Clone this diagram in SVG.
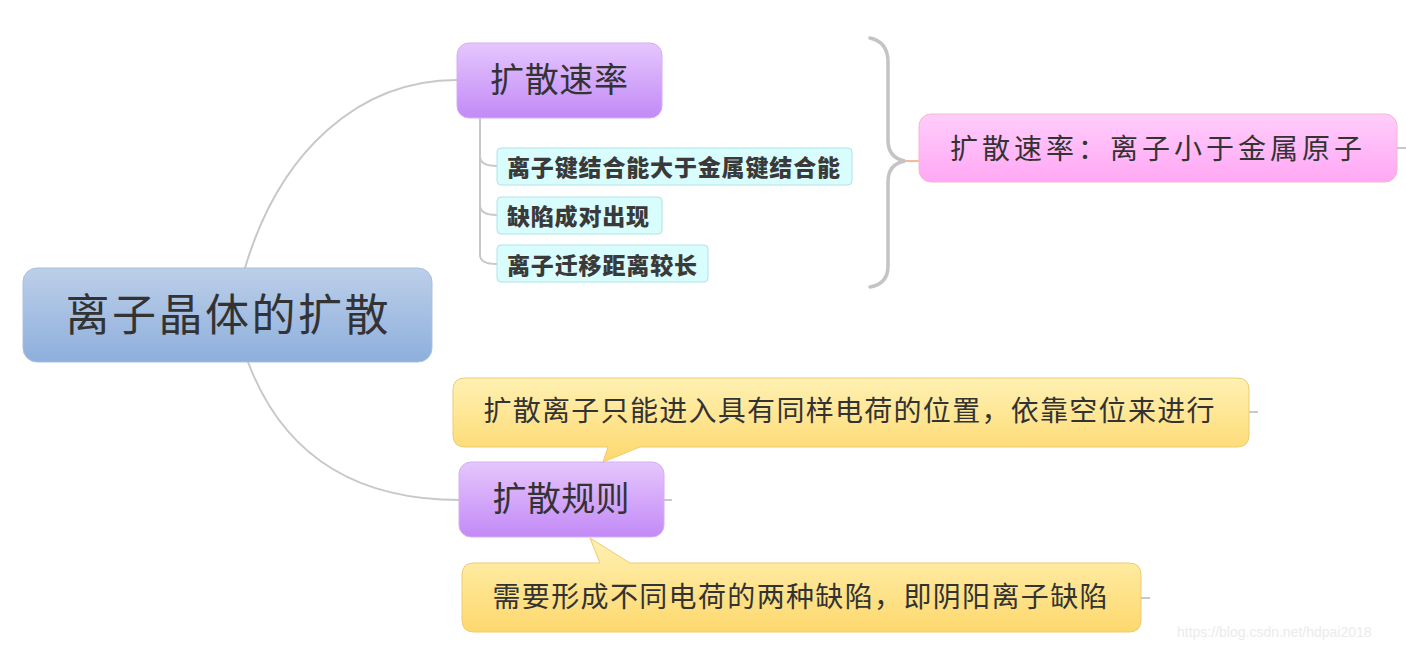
<svg xmlns="http://www.w3.org/2000/svg" width="1406" height="648" viewBox="0 0 1406 648">
<style>
.t{font-family:"Liberation Serif","Noto Sans CJK SC",serif;fill:#333;text-anchor:middle;dominant-baseline:central}
.b{font-family:"Noto Sans CJK SC",sans-serif;font-weight:900;fill:#3a3a3a;dominant-baseline:central}
.c{fill:none;stroke:#c8c8c8;stroke-width:2}
.sub{fill:#d9fcfd;stroke:#aee3e8;stroke-width:1}
.call{fill:url(#gy);stroke:#efcb72;stroke-width:1}
</style>
<defs>
<linearGradient id="gb" x1="0" y1="0" x2="0" y2="1"><stop offset="0" stop-color="#bccfe9"/><stop offset="1" stop-color="#8eafdc"/></linearGradient>
<linearGradient id="gp" x1="0" y1="0" x2="0" y2="1"><stop offset="0" stop-color="#e6c6fd"/><stop offset="1" stop-color="#c28af6"/></linearGradient>
<linearGradient id="gk" x1="0" y1="0" x2="0" y2="1"><stop offset="0" stop-color="#ffcdfb"/><stop offset="1" stop-color="#ffa8f4"/></linearGradient>
<linearGradient id="gy" x1="0" y1="0" x2="0" y2="1"><stop offset="0" stop-color="#fff1b2"/><stop offset="1" stop-color="#fdd86e"/></linearGradient>
</defs>
<rect width="1406" height="648" fill="#fff"/>
<g id="connectors">
<path class="c" d="M245,268 C280,150 360,80 457,80"/>
<path class="c" d="M248,362 C285,460 360,500 460,500"/>
<path class="c" stroke-width="1.5" d="M480,118 V255 Q480,264 497,264 M480,156 Q480,166 497,166 M480,205 Q480,215 497,215"/>
<path fill="none" stroke="#c4c4c4" stroke-width="3.5" stroke-linecap="round" d="M870,38 Q888,42 888,62 V140 Q888,158 905,161 Q888,164 888,182 V266 Q888,284 870,287"/>
<path fill="none" stroke="#f7b89a" stroke-width="2" d="M905,161 H920"/>
<path class="c" stroke-width="1" d="M1397,148 H1406 M1249,412 H1258 M1141,598 H1150 M664,500 H672"/>
</g>
<g id="root">
<rect x="23" y="268" width="409" height="94" rx="14" fill="url(#gb)" stroke="#a9bfe0"/>
<text class="t" x="227" y="316" font-size="44" textLength="323">离子晶体的扩散</text>
</g>
<g id="rate">
<rect x="457" y="43" width="205" height="75" rx="12" fill="url(#gp)" stroke="#d4aef5"/>
<text class="t" x="559" y="80" font-size="34" textLength="138">扩散速率</text>
</g>
<g id="sub1">
<rect class="sub" x="497" y="148" width="355" height="37" rx="4"/>
<text class="b" x="507" y="166" font-size="23" textLength="333">离子键结合能大于金属键结合能</text>
</g>
<g id="sub2">
<rect class="sub" x="497" y="197" width="165" height="37" rx="4"/>
<text class="b" x="507" y="215" font-size="23" textLength="142">缺陷成对出现</text>
</g>
<g id="sub3">
<rect class="sub" x="497" y="245" width="211" height="37" rx="4"/>
<text class="b" x="507" y="264" font-size="23" textLength="190">离子迁移距离较长</text>
</g>
<g id="summary">
<rect x="919" y="114" width="478" height="68" rx="12" fill="url(#gk)" stroke="#f5b8c8"/>
<text class="t" x="1156" y="149" font-size="28" textLength="412">扩散速率：离子小于金属原子</text>
</g>
<g id="rule">
<rect x="459" y="462" width="205" height="75" rx="12" fill="url(#gp)" stroke="#d4aef5"/>
<text class="t" x="561" y="499" font-size="34" textLength="137">扩散规则</text>
</g>
<g id="note1">
<path class="call" d="M465,378 H1237 Q1249,378 1249,390 V435 Q1249,447 1237,447 H640 L603,462 L608,447 H465 Q453,447 453,435 V390 Q453,378 465,378 Z"/>
<text class="t" x="849" y="411" font-size="28" textLength="731">扩散离子只能进入具有同样电荷的位置，依靠空位来进行</text>
</g>
<g id="note2">
<path class="call" d="M474,563 H600 L590,538 L630,563 H1129 Q1141,563 1141,575 V620 Q1141,632 1129,632 H474 Q462,632 462,620 V575 Q462,563 474,563 Z"/>
<text class="t" x="800" y="597" font-size="28" textLength="615">需要形成不同电荷的两种缺陷，即阴阳离子缺陷</text>
</g>
<text x="1177" y="637" font-family="Liberation Sans,sans-serif" font-size="14" fill="#ebebeb">https://blog.csdn.net/hdpai2018</text>
</svg>
